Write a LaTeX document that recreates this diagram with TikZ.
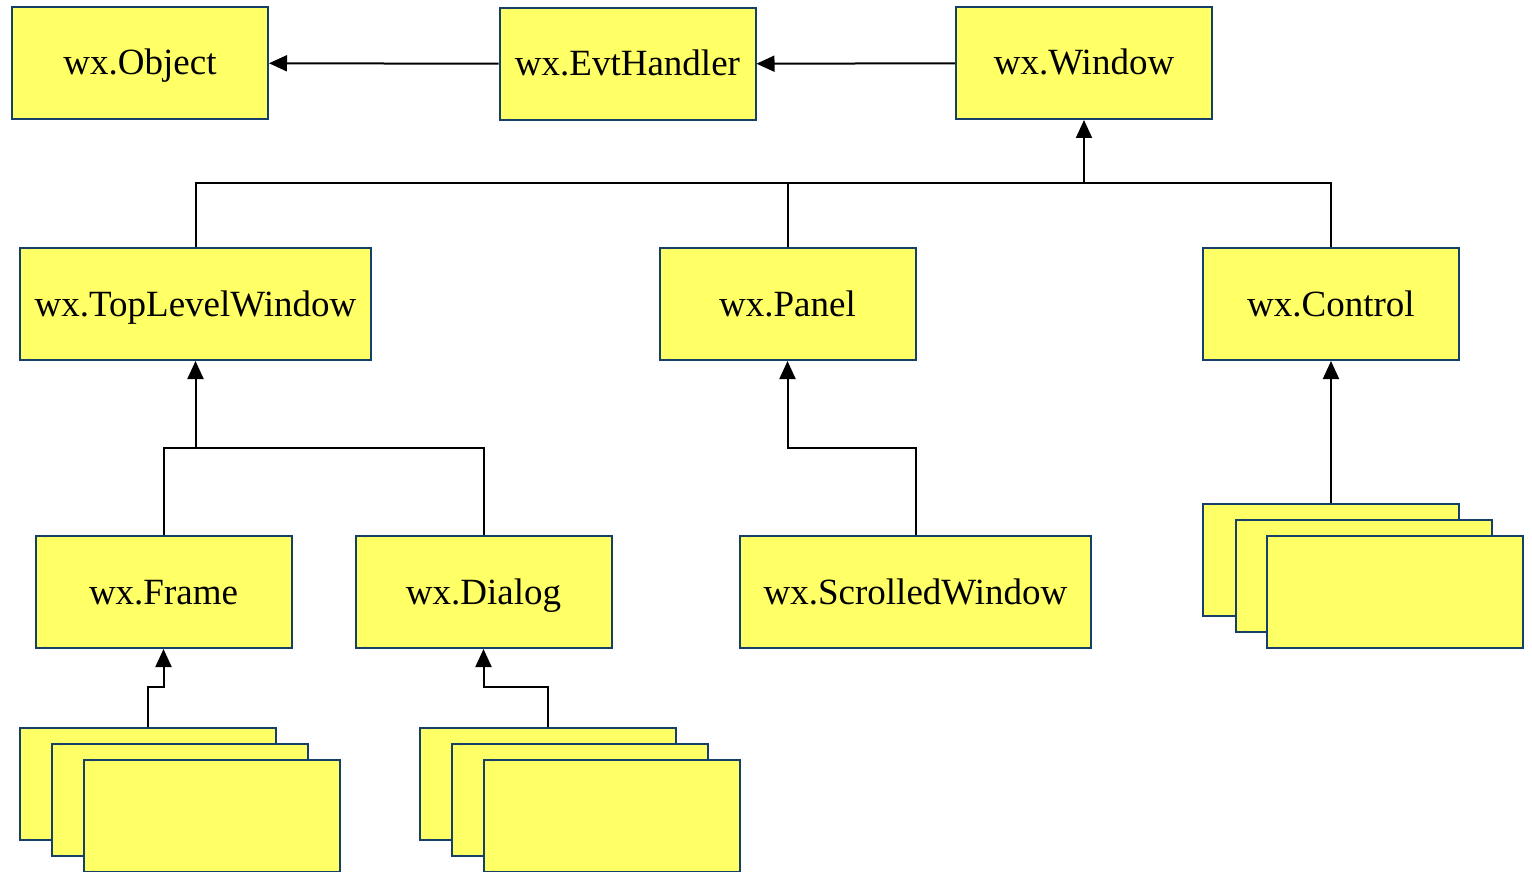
\documentclass[tikz,border=0pt]{standalone}
\usepackage{fontspec}
\setmainfont{Liberation Serif}
\usepackage{tikz}
\usetikzlibrary{positioning, arrows.meta}
\definecolor{boxYellow}{HTML}{FFFF66}
\definecolor{boxBlue}{HTML}{173F6B}
\tikzset{
    x=1pt, y=-1pt, % one unit per pixel, y pointing down
}

\begin{document}
\begin{tikzpicture}[
                                line width=2pt,
                                arrowUp/.style={-{Triangle[length=18pt, width=16pt]}}, % filled arrow heads
                                styleBox/.style={draw=boxBlue, fill=boxYellow, line width=2pt, inner sep=0pt,
                                    minimum width=256pt, minimum height=112pt, text height=30pt, text depth=6pt,
                                    font=\fontsize{37}{44}\selectfont},
                                styleWide/.style={minimum width=351pt},
                            ]
                            \useasboundingbox (0,0) rectangle (1532,872);
                            % first row
                            \node[styleBox] (wxObject) at (140,63) {wx.Object};
                            \node[styleBox] (wxEvtHandler) at (627.5,64) {wx.EvtHandler};
                            \node[styleBox] (wxWindow) at (1084,63) {wx.Window};
                            % second row
                            \node[styleBox, styleWide] (wxTopLevel) at (195.5,304) {wx.TopLevelWindow};
                            \node[styleBox] (wxPanel) at (787.5,304) {wx.Panel};
                            \node[styleBox] (wxControl) at (1331,304) {wx.Control};
                            % third row
                            \node[styleBox] (wxFrame) at (163.5,592) {wx.Frame};
                            \node[styleBox] (wxDialog) at (483.5,592) {wx.Dialog};
                            \node[styleBox, styleWide] (wxScrolled) at (915.5,592) {wx.ScrolledWindow};
                            \node[styleBox] (ctrlA) at (1331,560) {};
                            \node[styleBox] (ctrlB) at (1364,576) {};
                            \node[styleBox] (ctrlC) at (1395,592) {};
                            % fourth row
                            \node[styleBox] (frameA) at (148,784) {};
                            \node[styleBox] (frameB) at (180,800) {};
                            \node[styleBox] (frameC) at (212,816) {};
                            \node[styleBox] (dialogA) at (548,784) {};
                            \node[styleBox] (dialogB) at (580,800) {};
                            \node[styleBox] (dialogC) at (612,816) {};

                            \coordinate (winJoin) at (wxWindow.south |- 0,183);
                            \coordinate (topJoin) at (wxTopLevel.south |- 0,448);

                            \draw[arrowUp] (wxEvtHandler) -- (wxObject);
                            \draw[arrowUp] (wxWindow) -- (wxEvtHandler);

                            \draw (wxTopLevel.north) |- (wxControl.north |- winJoin) -- (wxControl.north);
                            \draw (wxPanel.north) -- (wxPanel.north |- winJoin);
                            \draw[arrowUp] (winJoin) -- (wxWindow.south);

                            \draw (wxFrame.north) |- (wxDialog.north |- topJoin) -- (wxDialog.north);
                            \draw[arrowUp] (topJoin) -- (wxTopLevel.south);

                            \draw[arrowUp] (wxScrolled.north) |- (wxPanel.south |- topJoin) -- (wxPanel.south);
                            \draw[arrowUp] (ctrlA.north) -- (wxControl.south);

                            \draw[arrowUp] (frameA.north) -- ++(0,-40) -| (wxFrame.south);
                            \draw[arrowUp] (dialogA.north) -- ++(0,-40) -| (wxDialog.south);
                        \end{tikzpicture}
\end{document}
